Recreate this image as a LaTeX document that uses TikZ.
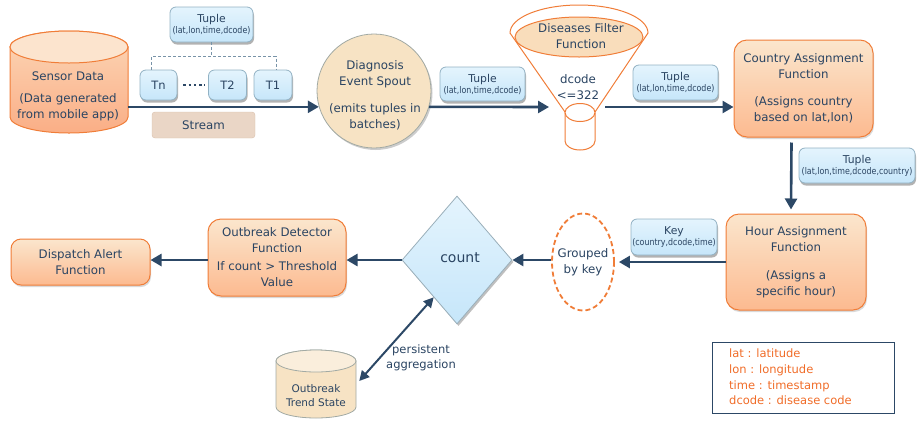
\documentclass[tikz,border=0pt]{standalone}
\usepackage{fontspec}
\setmainfont{DejaVu Sans}
\newfontfamily\condfont[FakeStretch=0.86]{DejaVu Sans}
\usetikzlibrary{arrows.meta,shapes.geometric,shadows}
\definecolor{navy}{HTML}{2C4866}
\definecolor{txt}{HTML}{2A4462}
\definecolor{orng}{HTML}{F07D38}
\definecolor{peachT}{HTML}{FBE6CD}
\definecolor{peachB}{HTML}{FCBA90}
\definecolor{peachL}{HTML}{F9DDBB}
\definecolor{blueT}{HTML}{E4F4FD}
\definecolor{blueF}{HTML}{C6E6FA}
\definecolor{blueD}{HTML}{92B2C4}
\definecolor{diamD}{HTML}{9AAFBA}
\definecolor{tanF}{HTML}{F7E3C4}
\definecolor{grayD}{HTML}{A2AAA4}
\definecolor{streamF}{HTML}{EAD6C6}
\definecolor{streamD}{HTML}{DAC0AC}
\definecolor{brkc}{HTML}{7893A8}
\definecolor{legc}{HTML}{F06C28}
\definecolor{sensT}{HTML}{FCD6B6}
\definecolor{sensB}{HTML}{FAAE86}
\definecolor{sensTop}{HTML}{FCE4CE}
\newcommand\tupt[2]{{\fontsize{10.8}{11}\selectfont #1}\\[-1pt]{\condfont\fontsize{9.2}{10}\selectfont #2}}
\begin{document}
\begin{tikzpicture}[x=1pt,y=-1pt,
  every node/.style={text=txt, inner sep=0pt, align=center},
  mfont/.style={font=\fontsize{11.8}{16}\selectfont},
  arr/.style={draw=navy, line width=2.6pt, -{Triangle[length=11pt,width=12pt]}},
  darr/.style={draw=navy, line width=2pt, {Triangle[length=10pt,width=10pt]}-{Triangle[length=10pt,width=10pt]}},
  obox/.style={draw=orng, line width=1pt, rounded corners=13pt, top color=peachT, bottom color=peachB, mfont, drop shadow={shadow xshift=1pt, shadow yshift=-2pt, fill=black, opacity=0.15}},
  tbox/.style={draw=blueD, line width=0.8pt, rounded corners=6pt, top color=blueT, bottom color=blueF, drop shadow={shadow xshift=1pt, shadow yshift=-2.5pt, fill=black, opacity=0.3}},
  brk/.style={draw=brkc, line width=0.8pt, dash pattern=on 3pt off 2pt},
]
\useasboundingbox (0,0) rectangle (920,421);

% ---- Sensor data cylinder
\path[draw=orng, line width=1pt, top color=sensT, bottom color=sensB] (10,47) -- (10,117) arc[start angle=180,end angle=0,x radius=59,y radius=16] -- (128,47) arc[start angle=0,end angle=-180,x radius=59,y radius=16] -- cycle;
\draw[orng, line width=1pt, fill=sensTop] (69,47) ellipse[x radius=59,y radius=16];
\node[minimum width=118pt, minimum height=102pt] (sensor) at (69,82) {};
\node[mfont] (senstxt) at (68,96) {Sensor Data\\[6pt](Data generated\\from mobile app)};

% ---- Tuples stream
\node[tbox, minimum width=83pt, minimum height=35pt] (tupA) at (211.5,24.5) {\tupt{Tuple}{(lat,lon,time,dcode)}};
\node[tbox, minimum width=37pt, minimum height=30pt, font=\fontsize{11.5}{12}\selectfont] (Tn) at (158.5,85) {Tn};
\node[tbox, minimum width=38pt, minimum height=30pt, font=\fontsize{11.5}{12}\selectfont] (T2) at (227.5,85) {T2};
\node[tbox, minimum width=38pt, minimum height=30pt, font=\fontsize{11.5}{12}\selectfont] (T1) at (273,85) {T1};
\draw[navy, line width=2.6pt, dash pattern=on 2.6pt off 2.6pt] ([xshift=6pt]Tn.east) -- ([xshift=-3pt]T2.west);
\coordinate (brM) at ([yshift=-14pt]tupA.south);
\coordinate (brL) at ([xshift=-7pt]Tn.north);
\coordinate (brR) at ([xshift=3pt]T1.north);
\draw[brk] (brL) -- (brL |- brM) -- (brR |- brM) -- (brR);
\draw[brk] (tupA.south) -- (brM);
\node[draw=streamD, fill=streamF, rounded corners=3pt, minimum width=103pt, minimum height=26pt, mfont] (stream) at (203.5,125) {Stream};

% ---- Spout
\node[circle, minimum size=114pt, draw=grayD, line width=0.8pt, fill=tanF, drop shadow={shadow xshift=1.5pt, shadow yshift=-2pt, fill=black, opacity=0.2}] (spout) at (374,91) {};
\node[mfont] (spouttxt) at (375,95) {Diagnosis\\Event Spout\\[11pt](emits tuples in\\batches)};

\node[tbox, minimum width=85pt, minimum height=34pt] (tupB) at (482.5,84) {\tupt{Tuple}{(lat,lon,time,dcode)}};

% ---- Funnel
\draw[orng, line width=1pt] (565,112) -- (510,33) arc[start angle=180,end angle=360,x radius=69,y radius=28] -- (595,112);
\node[ellipse, draw=orng, line width=1pt, fill=peachL, minimum width=128pt, minimum height=40pt] (filter) at (579,37) {};
\node[mfont] (filtxt) at (581,36) {Diseases Filter\\Function};
\draw[orng, line width=1pt, fill=white] (565,112.5) -- (565,141) arc[start angle=180,end angle=0,x radius=15,y radius=9] -- (595,112.5);
\draw[orng, line width=1pt, fill=white] (580,112.5) ellipse[x radius=15, y radius=9];
\node[mfont] (cond) at (578,87) {dcode\\<=322};
\coordinate (fin) at (549,107);
\coordinate (fout) at (605,107);

\node[tbox, minimum width=85pt, minimum height=35pt] (tupC) at (675.5,82.5) {\tupt{Tuple}{(lat,lon,time,dcode)}};

% ---- Country / Hour
\node[obox, minimum width=139pt, minimum height=97pt] (country) at (803.5,88.5) {Country Assignment\\Function\\[11pt](Assigns country\\based on lat,lon)};
\node[tbox, minimum width=116pt, minimum height=35pt] (tupD) at (857,165.5) {\tupt{Tuple}{(lat,lon,time,dcode,country)}};
\node[obox, minimum width=140pt, minimum height=96pt] (hour) at (796,262) {Hour Assignment\\Function\\[12pt](Assigns a\\specific hour)};
\node[tbox, minimum width=86pt, minimum height=36pt] (key) at (674,237) {\tupt{Key}{(country,dcode,time)}};

% ---- Grouped / count
\node[ellipse, draw=orng, dash pattern=on 5pt off 3pt, line width=1.8pt, fill=white, minimum width=62pt, minimum height=97pt] (grouped) at (583,262) {};
\node[mfont] (grptxt) at (583,262) {Grouped\\by key};
\node[diamond, aspect=0.86, minimum width=110pt, minimum height=128pt, draw=diamD, line width=0.8pt, top color=blueT, bottom color=blueF, drop shadow={shadow xshift=1.5pt, shadow yshift=-2pt, fill=black, opacity=0.25}] (count) at (457,260) {};
\node[font=\fontsize{14}{16}\selectfont] (counttxt) at (460,258) {count};

% ---- Detector / Dispatch
\node[obox, minimum width=138pt, minimum height=77pt] (detector) at (277,257.5) {Outbreak Detector\\Function\\[2pt]If count > Threshold\\Value};
\node[obox, rounded corners=10pt, minimum width=139pt, minimum height=46pt] (dispatch) at (80.5,262) {Dispatch Alert\\Function};

% ---- Trend state cylinder
\path[draw=grayD, line width=0.8pt, fill=tanF] (276,361) -- (276,407) arc[start angle=180,end angle=0,x radius=40,y radius=11] -- (356,361) arc[start angle=0,end angle=-180,x radius=40,y radius=11] -- cycle;
\draw[grayD, line width=0.8pt, fill=tanF!60!white] (316,361) ellipse[x radius=40,y radius=11];
\node[minimum width=80pt, minimum height=68pt] (trend) at (316,384) {};
\node[font=\fontsize{10.5}{14}\selectfont] (trendtxt) at (316,396) {Outbreak\\Trend State};
\node[font=\fontsize{11.5}{15}\selectfont] (persist) at (421,357.5) {persistent\\aggregation};

% ---- Legend
\node[draw=navy, line width=0.8pt, minimum width=182pt, minimum height=71pt] (legend) at (803,377.5) {};
\node[anchor=west, align=left, text=legc, font=\fontsize{11.5}{15.7}\selectfont] (legtxt) at (729,377) {lat : latitude\\lon : longitude\\time : timestamp\\dcode : disease code};

% ---- Connectors
\draw[arr] (sensor.east |- spout.196) -- (spout.196);
\draw[arr] (spout.-16) -- (fin);
\draw[arr] (fout) -- (fout -| country.west);
\draw[arr] ([shift={(-12pt,-5pt)}]country.south) -- ([shift={(-5pt,4pt)}]hour.north);
\draw[arr] (hour.west) -- ([xshift=4pt]grouped.east);
\draw[arr] (grouped.west |- count.east) -- (count.east);
\draw[arr] (count.west) -- (count.west -| detector.east);
\draw[arr] (count.west -| detector.west) -- (count.west -| dispatch.east);
\draw[darr] ([shift={(3pt,3pt)}]trend.east) -- (count.-122);
\end{tikzpicture}
\end{document}
